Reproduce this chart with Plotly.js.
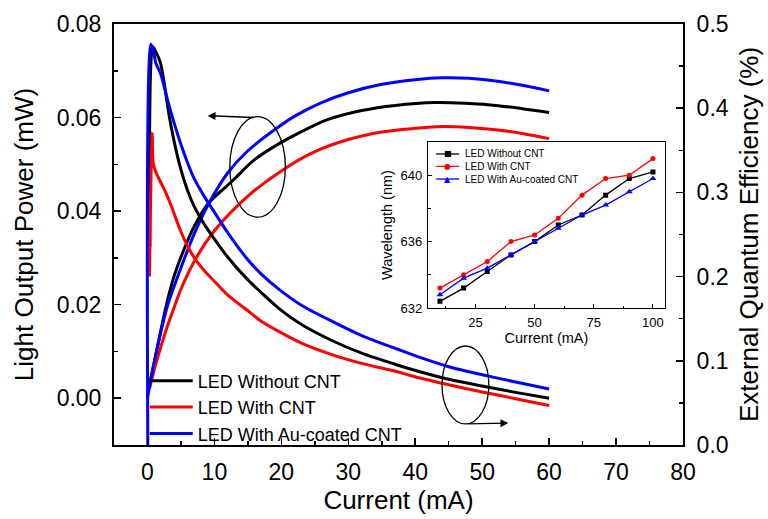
<!DOCTYPE html>
<html>
<head>
<meta charset="utf-8">
<script src="https://cdn.plot.ly/plotly-3.0.1.min.js"></script>
<style>html,body{margin:0;padding:0;background:#fff}#chart{width:768px;height:519px}</style>
</head>
<body>
<div id="chart"></div>
<script>
// ---- Light output power (left axis, mW) ----
const liBlackI = [0.3, 1, 2, 3, 4, 5, 7, 9, 12.8, 16, 20, 24, 27, 32, 37, 43, 48, 52, 56, 60];
const liBlackP = [0.003, 0.0075, 0.0145, 0.021, 0.0262, 0.0302, 0.0368, 0.0415, 0.0466, 0.051, 0.0547, 0.0577, 0.0596, 0.0615, 0.0626, 0.0632, 0.063, 0.0626, 0.0619, 0.0611];
const liRedI = [0.3, 1, 2, 3, 4, 5, 7, 10, 15, 20, 25, 30, 35, 40, 44, 48, 52, 56, 60];
const liRedP = [0.002, 0.006, 0.011, 0.0155, 0.0195, 0.0233, 0.0293, 0.0358, 0.0432, 0.0486, 0.0527, 0.0553, 0.0569, 0.0577, 0.0581, 0.0579, 0.0574, 0.0566, 0.0555];
const liBlueI = [0, 0.5, 1, 2, 3, 4, 5, 7, 9, 12, 15, 19, 22, 26, 30, 35, 40, 44, 48, 52, 56, 60];
const liBlueP = [0, 0.004, 0.0077, 0.0142, 0.0198, 0.024, 0.0279, 0.0352, 0.0412, 0.0482, 0.0529, 0.0574, 0.0603, 0.0632, 0.0653, 0.0671, 0.0681, 0.0685, 0.0684, 0.0678, 0.0669, 0.0657];

// ---- External quantum efficiency (right axis, %) ----
const eqeBlackI = [0.35, 0.8, 1.3, 1.9, 2.5, 3.1, 4, 5, 6, 7, 8.5, 9.8, 12, 14.9, 17, 19.8, 23, 27.3, 32, 37.3, 40.7, 45, 50, 55, 60];
const eqeBlackE = [0.235, 0.473, 0.466, 0.455, 0.43, 0.398, 0.36, 0.327, 0.302, 0.283, 0.262, 0.247, 0.223, 0.197, 0.181, 0.161, 0.143, 0.125, 0.109, 0.095, 0.087, 0.078, 0.07, 0.0625, 0.0555];
const eqeRedI = [0.3, 0.7, 0.85, 1.2, 1.6, 2.6, 3.5, 4.86, 6, 7.1, 8.5, 9.8, 12, 14.9, 17, 19.8, 23, 27.3, 32, 37.3, 40.7, 45, 50, 55, 60];
const eqeRedE = [0.2, 0.37, 0.335, 0.325, 0.318, 0.302, 0.285, 0.256, 0.236, 0.221, 0.207, 0.196, 0.178, 0.16, 0.147, 0.134, 0.121, 0.108, 0.097, 0.087, 0.0795, 0.0715, 0.063, 0.055, 0.047];
const eqeBlueI = [0.05, 0.5, 0.9, 1.2, 1.5, 2, 3, 4, 5, 6, 7, 8.5, 9.8, 12, 14.9, 17, 19.8, 23, 27.3, 32, 37.3, 40.7, 45, 50, 55, 60];
const eqeBlueE = [0, 0.476, 0.468, 0.455, 0.449, 0.44, 0.41, 0.382, 0.357, 0.335, 0.316, 0.295, 0.279, 0.252, 0.221, 0.203, 0.184, 0.166, 0.148, 0.13, 0.114, 0.104, 0.093, 0.0835, 0.0748, 0.0666];

// ---- Inset: wavelength vs current ----
const insetCurrent = [10, 20, 30, 40, 50, 60, 70, 80, 90, 100];
const wlBlack = [632.4, 633.2, 634.2, 635.2, 636.0, 637.0, 637.6, 638.8, 639.8, 640.2];
const wlRed = [633.2, 634.0, 634.8, 636.0, 636.4, 637.4, 638.8, 639.8, 640.0, 641.0];
const wlBlue = [632.8, 633.8, 634.4, 635.2, 636.0, 636.8, 637.6, 638.2, 639.0, 639.8];

const names = ['LED Without CNT', 'LED With CNT', 'LED With Au-coated CNT'];
const colors = ['#000000', '#ff0000', '#0000ff'];
const insetSymbolGlyphs = ['\u25A0', '\u25CF', '\u25B2'];

const FONT = 'Liberation Sans, Arial, Helvetica, sans-serif';

const traces = [];
const liI = [liBlackI, liRedI, liBlueI], liP = [liBlackP, liRedP, liBlueP];
const eI = [eqeBlackI, eqeRedI, eqeBlueI], eE = [eqeBlackE, eqeRedE, eqeBlueE];
for (let k = 0; k < 3; k++) {
  traces.push({x: liI[k], y: liP[k], type: 'scatter', mode: 'lines', name: names[k],
    line: {color: colors[k], width: 3, shape: 'spline', smoothing: 1},
    xaxis: 'x', yaxis: 'y', legend: 'legend', showlegend: true});
}
for (let k = 0; k < 3; k++) {
  traces.push({x: eI[k], y: eE[k], type: 'scatter', mode: 'lines', name: names[k],
    line: {color: colors[k], width: 3, shape: 'spline', smoothing: 0.8},
    xaxis: 'x', yaxis: 'y2', showlegend: false});
}
const wl = [wlBlack, wlRed, wlBlue];
const syms = ['square', 'circle', 'triangle-up'];
for (let k = 0; k < 3; k++) {
  traces.push({x: insetCurrent, y: wl[k], type: 'scatter', mode: 'lines+markers', name: names[k],
    line: {color: colors[k], width: 1.3}, marker: {color: colors[k], symbol: syms[k], size: k === 2 ? 6 : 5},
    xaxis: 'x2', yaxis: 'y3', showlegend: false});
}

// inset legend (compact, drawn in the inset's domain space)
const legRowsY = [0.928, 0.853, 0.777];
const insetShapes = [], insetAnn = [];
for (let k = 0; k < 3; k++) {
  insetShapes.push({type: 'line', xref: 'x2 domain', yref: 'y3 domain', x0: 0.034, x1: 0.131,
    y0: legRowsY[k], y1: legRowsY[k], line: {color: colors[k], width: 1.3}});
  insetAnn.push({xref: 'x2 domain', yref: 'y3 domain', x: 0.0825, y: legRowsY[k], text: insetSymbolGlyphs[k],
    showarrow: false, xanchor: 'center', yanchor: 'middle', font: {size: 8, color: colors[k], family: 'DejaVu Sans'}});
  insetAnn.push({xref: 'x2 domain', yref: 'y3 domain', x: 0.146, y: legRowsY[k], text: names[k],
    showarrow: false, xanchor: 'left', yanchor: 'middle', font: {size: 10, color: '#000', family: FONT}});
}

const axBase = {showgrid: false, zeroline: false, ticks: 'inside', linecolor: '#000', tickcolor: '#000',
  showline: true, color: '#000'};

const layout = {
  width: 768, height: 519,
  margin: {l: 114, r: 85, t: 24, b: 74},
  paper_bgcolor: '#fff', plot_bgcolor: 'rgba(0,0,0,0)',
  font: {family: FONT, color: '#000'},
  xaxis: Object.assign({}, axBase, {
    domain: [0, 1], range: [-5, 80], dtick: 10, tick0: 0, ticklen: 7, tickwidth: 1.5, linewidth: 2,
    mirror: true, minor: {dtick: 5, ticklen: 4, tickwidth: 1.5, ticks: 'inside', tickcolor: '#000'},
    tickfont: {size: 23, family: FONT}, ticklabelstandoff: 5,
    title: {text: 'Current (mA)', font: {size: 26, family: FONT}, standoff: 6}
  }),
  yaxis: Object.assign({}, axBase, {
    range: [-0.01, 0.08], dtick: 0.02, tick0: 0, tickformat: '.2f', ticklen: 7, tickwidth: 1.5, linewidth: 2,
    minor: {dtick: 0.01, ticklen: 4, tickwidth: 1.5, ticks: 'inside', tickcolor: '#000'},
    tickfont: {size: 23, family: FONT}, ticklabelstandoff: 6,
    title: {text: 'Light Output Power (mW)', font: {size: 26, family: FONT}, standoff: 16}
  }),
  yaxis2: Object.assign({}, axBase, {
    overlaying: 'y', side: 'right', anchor: 'x', range: [0, 0.5], dtick: 0.1, tick0: 0, tickformat: '.1f',
    ticklen: 7, tickwidth: 1.5, linewidth: 2,
    minor: {dtick: 0.05, ticklen: 4, tickwidth: 1.5, ticks: 'inside', tickcolor: '#000'},
    tickfont: {size: 23, family: FONT}, ticklabelstandoff: 7,
    title: {text: 'External Quantum Efficiency (%)', font: {size: 26, family: FONT}, standoff: 12}
  }),
  xaxis2: Object.assign({}, axBase, {
    domain: [0.552, 0.968], anchor: 'y3', range: [5, 105], tickvals: [25, 50, 75, 100],
    ticklen: 4, tickwidth: 1, linewidth: 1.3, mirror: true,
    minor: {tickvals: [12.5, 37.5, 62.5, 87.5], ticklen: 2.5, ticks: 'inside', tickcolor: '#000'},
    tickfont: {size: 13, family: FONT}, ticklabelstandoff: 2,
    title: {text: 'Current (mA)', font: {size: 14.5, family: FONT}, standoff: 2}
  }),
  yaxis3: Object.assign({}, axBase, {
    domain: [0.3254, 0.7197], anchor: 'x2', range: [632, 642], dtick: 4, tick0: 632,
    ticklen: 4, tickwidth: 1, linewidth: 1.3, mirror: true,
    minor: {dtick: 2, ticklen: 2.5, ticks: 'inside', tickcolor: '#000'},
    tickfont: {size: 13, family: FONT}, ticklabelstandoff: 2,
    title: {text: 'Wavelength (nm)', font: {size: 14.5, family: FONT}, standoff: 4}
  }),
  legend: {x: 0.054, xanchor: 'left', y: 0.196, yanchor: 'top', bgcolor: 'rgba(0,0,0,0)',
    font: {size: 18, family: FONT}, itemwidth: 43, tracegroupgap: 0},
  shapes: [
    {type: 'circle', xref: 'x', yref: 'y', x0: 12.3, x1: 20.6, y0: 0.0387, y1: 0.0602,
      line: {color: '#000', width: 1.3}},
    {type: 'circle', xref: 'x', yref: 'y2', x0: 44.0, x1: 51.0, y0: 0.025, y1: 0.1176,
      line: {color: '#000', width: 1.3}}
  ].concat(insetShapes),
  annotations: [
    {x: 9.0, y: 0.0604, xref: 'x', yref: 'y', ax: 16.1, ay: 0.060, axref: 'x', ayref: 'y',
      text: '', showarrow: true, arrowhead: 2, arrowsize: 1.2, arrowwidth: 1.3, arrowcolor: '#000'},
    {x: 53.9, y: 0.026, xref: 'x', yref: 'y2', ax: 47.6, ay: 0.025, axref: 'x', ayref: 'y2',
      text: '', showarrow: true, arrowhead: 2, arrowsize: 1.2, arrowwidth: 1.3, arrowcolor: '#000'}
  ].concat(insetAnn)
};

Plotly.newPlot('chart', traces, layout, {displayModeBar: false, staticPlot: true});
</script>
</body>
</html>
